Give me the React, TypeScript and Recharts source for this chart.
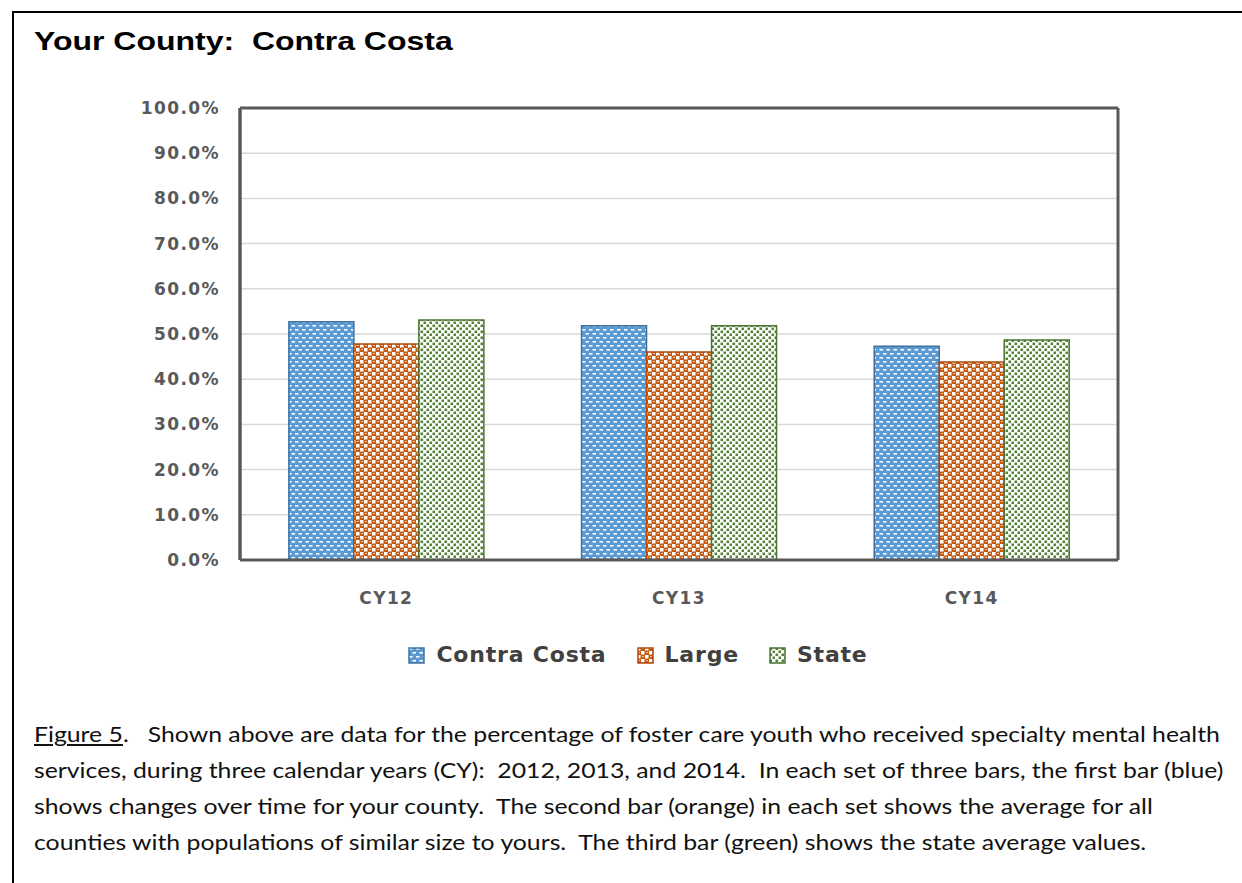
import React from 'react'
import { Bar, BarChart, CartesianGrid, XAxis, YAxis } from 'recharts'

const years = ['CY12', 'CY13', 'CY14']
const contraCosta = [52.7, 51.8, 47.3]
const large = [47.8, 46.0, 43.8]
const stateAvg = [53.1, 51.8, 48.7]
const yTicks = [0, 10, 20, 30, 40, 50, 60, 70, 80, 90, 100]

const captionLines = [
  'Shown above are data for the percentage of foster care youth who received specialty mental health',
  'services, during three calendar years (CY):  2012, 2013, and 2014.  In each set of three bars, the first bar (blue)',
  'shows changes over time for your county.  The second bar (orange) in each set shows the average for all',
  'counties with populations of similar size to yours.  The third bar (green) shows the state average values.',
]

const data = years.map((y, i) => ({
  year: y,
  cc: contraCosta[i],
  large: large[i],
  state: stateAvg[i],
}))

const series = [
  { key: 'cc', name: 'Contra Costa', fill: 'url(#patBlue)', stroke: '#41719c' },
  { key: 'large', name: 'Large', fill: 'url(#patOrange)', stroke: '#ae4a0c' },
  { key: 'state', name: 'State', fill: 'url(#patGreen)', stroke: '#4a7530' },
]

const axisColor = '#595959'
const tickFont = {
  fill: '#595959',
  fontFamily: 'DejaVu Sans',
  fontWeight: 700,
  fontSize: 17,
  letterSpacing: 1.4,
}

const Patterns = () => (
  <svg width={0} height={0} style={{ position: 'absolute' }}>
    <defs>
      <pattern id="patBlue" width={7} height={8} patternUnits="userSpaceOnUse">
        <rect width={7} height={8} fill="#5b9bd5" />
        <rect x={1} y={1} width={3.5} height={1.6} fill="#ffffff" />
        <rect x={4.5} y={5} width={3.5} height={1.6} fill="#ffffff" />
        <rect x={-2.5} y={5} width={3.5} height={1.6} fill="#ffffff" />
      </pattern>
      <pattern id="patOrange" width={8} height={8} patternUnits="userSpaceOnUse">
        <rect width={8} height={8} fill="#c55a11" />
        <rect x={0} y={0} width={3.5} height={3.5} fill="#ffffff" />
        <rect x={4} y={4} width={3.5} height={3.5} fill="#ffffff" />
        <rect x={5} y={1} width={2} height={0.9} fill="#f3d2bc" />
        <rect x={1} y={5} width={2} height={0.9} fill="#f3d2bc" />
      </pattern>
      <pattern id="patGreen" width={6} height={6} patternUnits="userSpaceOnUse">
        <rect width={6} height={6} fill="#ffffff" />
        <rect x={0.5} y={0.5} width={2.6} height={2.6} fill="#548235" />
        <rect x={3.5} y={3.5} width={2.6} height={2.6} fill="#548235" />
      </pattern>
    </defs>
  </svg>
)

const ChartLegend = () => (
  <div
    style={{
      position: 'absolute',
      left: 0,
      top: 640,
      width: 1242,
      display: 'flex',
      justifyContent: 'center',
      alignItems: 'center',
      gap: 30,
      paddingLeft: 34,
      boxSizing: 'border-box',
    }}
  >
    {series.map((s) => (
      <div key={s.key} style={{ display: 'flex', alignItems: 'center' }}>
        <svg width={17} height={17} style={{ marginRight: 11 }}>
          <rect x={1} y={1} width={15} height={15} fill={s.fill} stroke={s.stroke} strokeWidth={1.5} />
        </svg>
        <span
          style={{
            fontFamily: 'DejaVu Sans',
            fontWeight: 700,
            fontSize: 22,
            letterSpacing: 0.8,
            color: '#404040',
            lineHeight: '30px',
          }}
        >
          {s.name}
        </span>
      </div>
    ))}
  </div>
)

// plot frame: only the outer edges of the plot area
const frameX = ({ offset }: any) => [offset.left, offset.left + offset.width]
const frameY = ({ offset }: any) => [offset.top]

export default function App() {
  return (
    <div
      style={{
        position: 'absolute',
        left: 0,
        top: 0,
        width: 1242,
        height: 883,
        background: '#fff',
        overflow: 'hidden',
      }}
    >
      <Patterns />
      <div
        style={{
          position: 'absolute',
          left: 12,
          top: 11,
          width: 1240,
          height: 880,
          borderLeft: '2px solid #000',
          borderTop: '2px solid #000',
        }}
      />
      <div
        style={{
          position: 'absolute',
          left: 34,
          top: 26,
          fontFamily: 'Liberation Sans',
          fontWeight: 700,
          fontSize: 26,
          color: '#000',
          whiteSpace: 'pre',
          transform: 'scaleX(1.23)',
          transformOrigin: 'left top',
        }}
      >
        {'Your County:  Contra Costa'}
      </div>

      <div style={{ position: 'absolute', left: 0, top: 0 }}>
        <BarChart
          width={1242}
          height={700}
          data={data}
          margin={{ top: 108, right: 124, left: 0, bottom: 100 }}
          barCategoryGap="16.7%"
          barGap={0}
        >
          <CartesianGrid horizontal vertical={false} stroke="#d9d9d9" strokeWidth={1.5} />
          <CartesianGrid
            stroke={axisColor}
            strokeWidth={3}
            verticalCoordinatesGenerator={frameX}
            horizontalCoordinatesGenerator={frameY}
          />
          <XAxis
            dataKey="year"
            tickLine={false}
            axisLine={{ stroke: axisColor, strokeWidth: 3 }}
            tick={tickFont}
            tickMargin={26}
            height={40}
          />
          <YAxis
            domain={[0, 100]}
            ticks={yTicks}
            tickFormatter={(v: number) => `${v.toFixed(1)}%`}
            tickLine={false}
            axisLine={{ stroke: axisColor, strokeWidth: 3 }}
            tick={tickFont}
            tickMargin={14}
            width={240}
          />
          {series.map((s) => (
            <Bar
              key={s.key}
              dataKey={s.key}
              name={s.name}
              fill={s.fill}
              stroke={s.stroke}
              strokeWidth={1.5}
              isAnimationActive={false}
            />
          ))}
        </BarChart>
      </div>

      <ChartLegend />

      <div
        style={{
          position: 'absolute',
          left: 34,
          top: 716,
          fontFamily: 'Lato',
          fontSize: 21,
          lineHeight: '36px',
          color: '#111',
          whiteSpace: 'pre',
          transform: 'scaleX(1.18)',
          transformOrigin: 'left top',
        }}
      >
        {captionLines.map((line, i) => (
          <div key={i}>
            {i === 0 ? (
              <>
                <span style={{ textDecoration: 'underline' }}>Figure 5</span>
                {'.   '}
              </>
            ) : null}
            {line}
          </div>
        ))}
      </div>
    </div>
  )
}
